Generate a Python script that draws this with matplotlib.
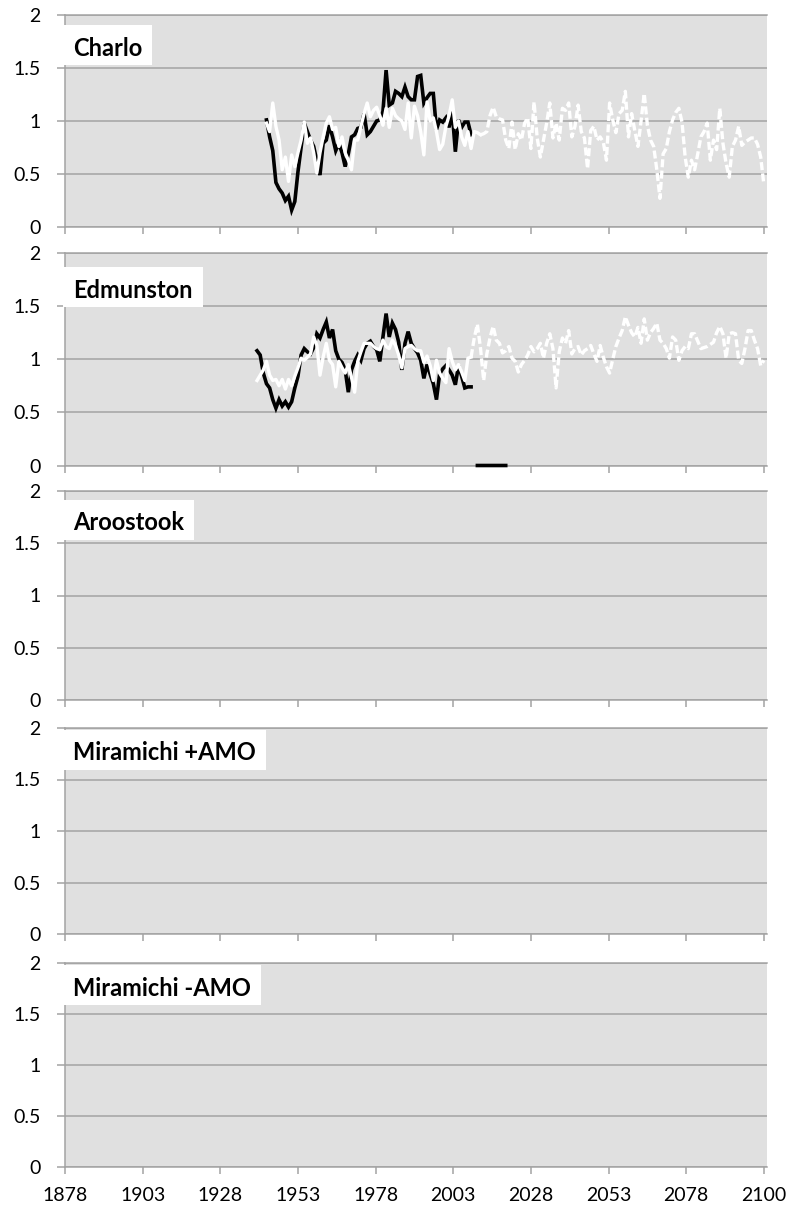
import numpy as np
import matplotlib
matplotlib.use("Agg")
import matplotlib.pyplot as plt
from matplotlib.patches import Rectangle

# ---------------- data ----------------
x_tick_labels = ["1878", "1903", "1928", "1953", "1978", "2003", "2028", "2053", "2078", "2100"]
y_ticks = [0, 0.5, 1, 1.5, 2]
y_tick_labels = ["0", "0.5", "1", "1.5", "2"]

panel_names = ["Charlo", "Edmunston", "Aroostook", "Miramichi +AMO", "Miramichi -AMO"]

charlo_obs_start = 1942
charlo_obs = [1.01, 0.85, 0.72, 0.42, 0.36, 0.32, 0.25, 0.29, 0.16, 0.24,
              0.52, 0.75, 0.98, 0.90, 0.82, 0.76, 0.62, 0.49, 0.79, 0.82,
              0.96, 0.85, 0.72, 0.79, 0.70, 0.57, 0.69, 0.85, 0.87, 0.93,
              0.94, 1.07, 0.87, 0.90, 0.95, 1.00, 1.01, 1.09, 1.48, 1.15,
              1.17, 1.28, 1.26, 1.23, 1.32, 1.23, 1.20, 1.20, 1.42, 1.43,
              1.17, 1.22, 1.26, 1.26, 0.92, 1.01, 0.99, 1.03, 0.94, 1.09,
              0.71, 1.01, 0.94, 0.99, 0.99, 0.87]

charlo_hist_start = 1942
charlo_hist = [0.98, 0.90, 1.17, 0.95, 0.82, 0.54, 0.66, 0.43, 0.68, 0.57,
               0.70, 0.82, 0.99, 0.79, 0.84, 0.70, 0.51, 0.70, 0.85, 0.98,
               1.04, 0.92, 0.94, 0.76, 0.85, 0.70, 0.63, 0.54, 0.82, 0.82,
               0.95, 1.07, 1.17, 1.04, 1.10, 1.13, 1.05, 0.96, 1.12, 0.94,
               1.12, 1.05, 1.02, 1.00, 0.92, 1.17, 0.84, 1.14, 1.05, 0.90,
               0.68, 1.18, 1.00, 1.03, 0.90, 0.73, 0.78, 0.95, 1.05, 1.20,
               0.94, 1.00, 0.85, 0.77, 0.90, 0.74, 0.90, 0.89, 0.87]

charlo_fut_start = 2010
charlo_fut = [0.87, 0.88, 0.90, 1.05, 1.13, 1.04, 1.02, 1.01, 0.82, 0.74,
              0.99, 0.73, 0.88, 0.82, 0.98, 1.03, 0.74, 1.18, 0.84, 0.66,
              0.82, 0.98, 1.17, 0.84, 0.98, 0.82, 1.12, 1.10, 1.17, 0.85,
              0.95, 1.15, 0.90, 0.84, 0.55, 0.91, 0.95, 0.82, 0.85, 0.80,
              0.63, 1.17, 1.01, 0.89, 1.07, 1.10, 1.28, 0.85, 1.07, 0.91,
              0.76, 1.00, 1.26, 0.96, 0.82, 0.76, 0.54, 0.27, 0.69, 0.74,
              0.90, 1.01, 1.08, 1.12, 0.99, 0.66, 0.47, 0.63, 0.54, 0.69,
              0.85, 0.90, 0.98, 0.63, 0.82, 0.73, 1.12, 0.79, 0.60, 0.47,
              0.76, 0.82, 0.95, 0.77, 0.80, 0.82, 0.84, 0.84, 0.78, 0.66, 0.40]

edm_obs_start = 1939
edm_obs = [1.08, 1.04, 0.87, 0.77, 0.73, 0.62, 0.54, 0.62, 0.56, 0.60,
           0.55, 0.60, 0.73, 0.84, 1.04, 1.10, 1.07, 1.05, 1.11, 1.24,
           1.20, 1.28, 1.35, 1.20, 1.28, 1.08, 1.00, 0.97, 0.90, 0.69,
           0.90, 0.98, 1.04, 0.99, 1.10, 1.15, 1.17, 1.12, 1.09, 0.98,
           1.21, 1.43, 1.21, 1.34, 1.28, 1.16, 0.90, 1.15, 1.26, 1.15,
           1.10, 1.06, 0.99, 0.82, 0.95, 0.86, 0.77, 0.62, 0.86, 0.91,
           0.94, 0.90, 0.85, 0.76, 0.94, 0.84, 0.73, 0.74, 0.74,
           np.nan, 0, 0, 0, 0, 0, 0, 0, 0, 0, 0]

edm_hist_start = 1939
edm_hist = [0.80, 0.85, 0.90, 0.98, 0.85, 0.80, 0.81, 0.75, 0.81, 0.72,
            0.81, 0.75, 0.84, 0.92, 1.01, 0.99, 1.02, 1.05, 1.21, 1.13,
            0.85, 1.02, 1.15, 0.99, 0.95, 0.74, 0.98, 0.92, 0.87, 0.95,
            0.83, 0.69, 0.98, 1.07, 1.15, 1.15, 1.15, 1.12, 1.10, 1.09,
            1.18, 1.12, 1.10, 1.18, 1.13, 1.04, 0.92, 1.10, 1.12, 1.13,
            1.10, 1.08, 1.08, 0.97, 1.03, 0.94, 0.80, 0.99, 0.87, 0.82,
            0.78, 1.10, 0.98, 0.90, 0.95, 0.88, 0.80, 1.01, 1.02]

edm_fut_start = 2007
edm_fut = [1.02, 1.20, 1.33, 1.10, 0.80, 1.05, 1.20, 1.31, 1.18, 1.15,
           1.06, 1.08, 1.12, 1.01, 0.98, 0.88, 0.95, 0.99, 1.04, 1.12,
           1.07, 1.10, 1.15, 1.01, 1.15, 1.24, 1.10, 0.73, 1.07, 1.20,
           1.15, 1.27, 1.05, 1.10, 1.12, 1.04, 1.08, 1.10, 1.13, 1.05,
           0.98, 1.13, 1.02, 0.93, 0.87, 1.00, 1.12, 1.20, 1.27, 1.40,
           1.32, 1.25, 1.21, 1.30, 1.15, 1.38, 1.18, 1.25, 1.29, 1.34,
           1.18, 1.15, 1.10, 1.01, 1.21, 1.18, 0.99, 1.08, 1.12, 1.10,
           1.24, 1.24, 1.17, 1.10, 1.11, 1.12, 1.14, 1.16, 1.25, 1.31,
           1.24, 1.01, 1.24, 1.25, 1.24, 0.99, 0.96, 1.10, 1.27, 1.27,
           1.18, 1.10, 0.94, 0.99]

series = {
    "Charlo": [(charlo_obs_start, charlo_obs), (charlo_hist_start, charlo_hist), (charlo_fut_start, charlo_fut)],
    "Edmunston": [(edm_obs_start, edm_obs), (edm_hist_start, edm_hist), (edm_fut_start, edm_fut)],
}

# ---------------- layout (pixels) ----------------
W, H = 797, 1212
panel_px = [(15, 227, 25), (253, 465.5, 267), (491, 700, 500), (728, 934, 730), (963, 1167, 965)]
ax_left, ax_width = 65, 702

GRID = "#a3a3a3"
BG = "#e0e0e0"

fig = plt.figure(figsize=(W / 100, H / 100), dpi=100)
renderer = fig.canvas.get_renderer()

for i, (name, (top, bot, btop)) in enumerate(zip(panel_names, panel_px)):
    ax = fig.add_axes([ax_left / W, 1 - bot / H, ax_width / W, (bot - top) / H])
    ax.set_facecolor(BG)
    ax.set_xlim(1878, 2101)
    ax.set_ylim(0, 2)
    ax.set_yticks(y_ticks)
    ax.set_yticklabels(y_tick_labels)
    ax.set_xticks(np.linspace(1878, 2100, len(x_tick_labels)))
    if i == len(panel_names) - 1:
        ax.set_xticklabels(x_tick_labels)
    else:
        ax.set_xticklabels([])
    ax.grid(axis="y", color=GRID, lw=1.1)
    ax.set_axisbelow(True)
    ax.spines["right"].set_visible(False)
    for s in ["left", "bottom", "top"]:
        ax.spines[s].set_color(GRID)
        ax.spines[s].set_linewidth(1.1)
    ax.tick_params(axis="y", length=5.8, width=1.1, color=GRID, pad=12,
                   labelsize=14, labelcolor="black")
    ax.tick_params(axis="x", length=5.2, width=1.1, color=GRID, pad=9,
                   labelsize=14, labelcolor="black")
    for lab in ax.get_xticklabels() + ax.get_yticklabels():
        lab.set_family("Lato")

    if name in series:
        (s0, obs), (s1, hist), (s2, fut) = series[name]
        obs = np.array(obs, dtype=float)
        ax.plot(np.arange(s0, s0 + len(obs)), obs, color="black", lw=2.6,
                solid_joinstyle="miter", zorder=3, clip_on=False)
        ax.plot(np.arange(s1, s1 + len(hist)), hist, color="white", lw=2.4, zorder=4)
        ax.plot(np.arange(s2, s2 + len(fut)), fut, color="white", lw=2.4,
                linestyle=(0, (2.4, 1.0)), zorder=4)

    # label box
    t = fig.text(73 / W, 1 - (btop + 30.5) / H, name, ha="left", va="baseline",
                 fontsize=17, fontweight="bold", family="Lato", color="black", zorder=11)
    bb = t.get_window_extent(renderer=renderer)
    box_w = (73 - 63) + bb.width + 10
    fig.add_artist(Rectangle((63 / W, 1 - (btop + 40) / H), box_w / W, 40 / H,
                             transform=fig.transFigure, facecolor="white",
                             edgecolor="none", zorder=10))

fig.savefig("out.png", dpi=100)
